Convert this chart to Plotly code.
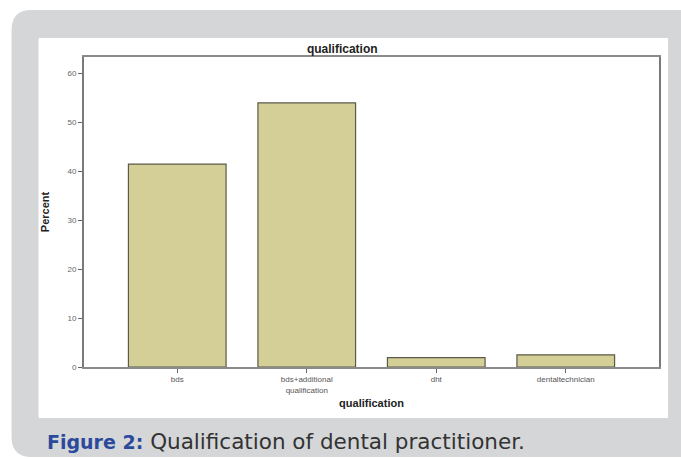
import plotly.graph_objects as go

categories = ["bds", "bds+additional<br>qualification", "dht", "dentaltechnician"]
percent = [41.5, 54.0, 1.9, 2.5]
y_ticks = [0, 10, 20, 30, 40, 50, 60]

W, H = 681, 459
L, R, T, B = 83.5, 22, 57, 92
PW, PH = W - L - R, H - T - B


def px(x):
    return (x - L) / PW


def py(y):
    return 1 - (y - T) / PH


fig = go.Figure()
fig.add_trace(go.Bar(
    x=list(range(len(categories))), y=percent, width=0.754,
    marker=dict(color="#d4cf97", line=dict(color="#5a5a4a", width=1.2)),
    hoverinfo="skip",
))

# rounded gray panel (extends past right/bottom)
x0, y0, x1, y1, rr = px(11), py(10), px(700), py(457), 20
path = (f"M {px(11 + rr)},{y0} L {x1},{y0} L {x1},{y1} L {px(11 + rr)},{y1} "
        f"Q {x0},{y1} {x0},{py(457 - rr)} L {x0},{py(10 + rr)} Q {x0},{y0} {px(11 + rr)},{y0} Z")
shapes = [
    dict(type="path", xref="paper", yref="paper", path=path,
         fillcolor="#d5d6d8", line=dict(width=0), layer="below"),
    dict(type="rect", xref="paper", yref="paper", x0=px(38), y0=py(38), x1=px(668), y1=py(418),
         fillcolor="white", line=dict(width=0), layer="below"),
]

fig.update_layout(
    width=W, height=H,
    margin=dict(l=L, r=R, t=T, b=B),
    paper_bgcolor="white",
    plot_bgcolor="#f0f0f0",
    showlegend=False,
    shapes=shapes,
    font=dict(family="Liberation Sans", color="#444"),
    title=dict(text="<b>qualification</b>", x=px(342), xref="paper", xanchor="center",
               y=1 - 49 / H, yref="container", yanchor="middle",
               font=dict(size=12, color="#222", family="Liberation Sans")),
    xaxis=dict(
        tickmode="array", tickvals=list(range(len(categories))), ticktext=categories,
        range=[-0.72, 3.72], showgrid=False, zeroline=False,
        showline=True, mirror=True, linecolor="#8a8a8a", linewidth=1.5,
        ticks="outside", ticklen=4, tickcolor="#666", tickwidth=1,
        tickfont=dict(size=8, color="#555"),
        title=dict(text="<b>qualification</b>", font=dict(size=11, color="#222"), standoff=6),
    ),
    yaxis=dict(
        range=[0, 63.4], tickvals=y_ticks, showgrid=False, zeroline=False,
        showline=True, mirror=True, linecolor="#7a7a7a", linewidth=1.8,
        ticks="outside", ticklen=4, tickcolor="#666", tickwidth=1,
        tickfont=dict(size=8, color="#666"),
        title=dict(text="<b>Percent</b>", font=dict(size=11, color="#222"), standoff=16),
    ),
    annotations=[dict(
        xref="paper", yref="paper", x=px(44), y=py(441), xanchor="left", yanchor="middle",
        showarrow=False,
        text=("<b><span style='color:#2c4a9c;font-size:19px'>Figure 2:</span></b>"
              " Qualification of dental practitioner."),
        font=dict(family="DejaVu Sans", size=21.5, color="#333"),
    )],
)

fig.write_html(
    "out.html",
    config={"displayModeBar": False},
    post_script="document.body.style.margin='0';document.body.style.overflow='hidden';",
)
